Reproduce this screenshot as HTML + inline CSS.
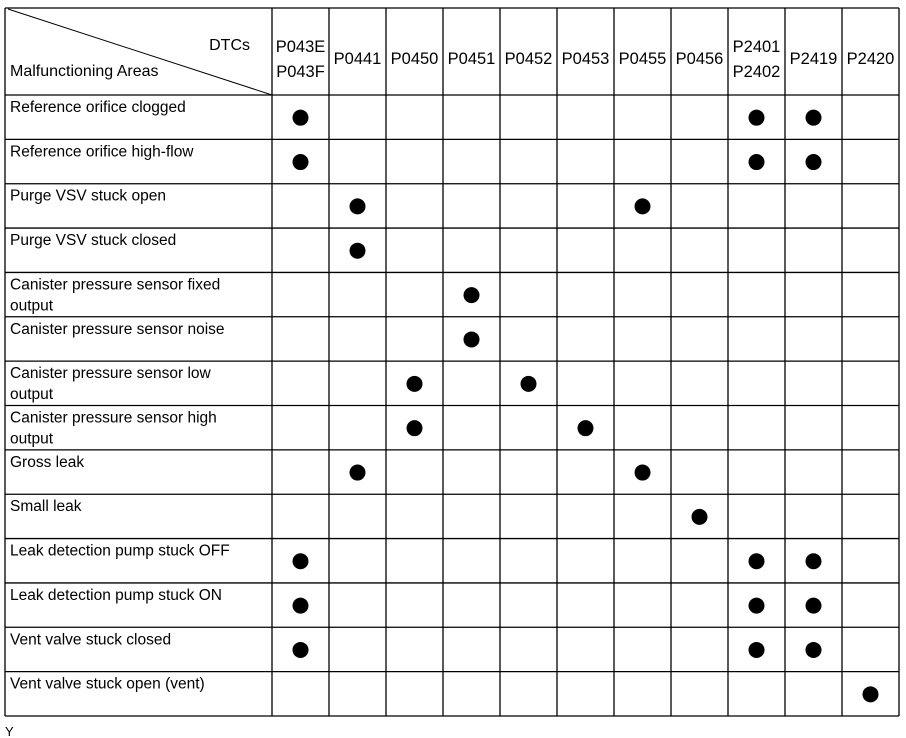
<!DOCTYPE html>
<html><head><meta charset="utf-8"><style>body{margin:0;background:#fff}svg{display:block}text{font-family:"Liberation Sans",Arial,sans-serif;font-size:15.5px;fill:#000}</style></head><body>
<svg id="s" width="906" height="738" xmlns="http://www.w3.org/2000/svg">
<rect x="0" y="0" width="906" height="738" fill="#fff"/>
<g id="g" stroke="#000" stroke-width="1.3"></g>
<line x1="8" y1="9" x2="272" y2="95" stroke="#000" stroke-width="1"/>
<text x="250" y="50" text-anchor="end" style="font-size:16px">DTCs</text>
<text x="10" y="76" style="font-size:16px">Malfunctioning Areas</text>
<text x="5" y="736" style="font-size:13px">Y</text>
</svg>
<script>
(function(){
var s=document.getElementById('s'),g=document.getElementById('g'),NS='http://www.w3.org/2000/svg';
function el(t,a,p,txt){var e=document.createElementNS(NS,t);for(var k in a)e.setAttribute(k,a[k]);if(txt)e.textContent=txt;(p||s).appendChild(e);return e;}
var cols=[5,272,329,386,443,500,557,614,671,728,785,842,899];
var ty=8,hb=95,bot=716,rh=(bot-hb)/14;
cols.forEach(function(x){el('line',{x1:x,y1:ty,x2:x,y2:bot},g);});
el('line',{x1:5,y1:ty,x2:899,y2:ty},g);
for(var i=0;i<=14;i++){var y=hb+i*rh;el('line',{x1:5,y1:y,x2:899,y2:y},g);}
var hd=[["P043E","P043F"],["P0441"],["P0450"],["P0451"],["P0452"],["P0453"],["P0455"],["P0456"],["P2401","P2402"],["P2419"],["P2420"]];
hd.forEach(function(h,i){var cx=(cols[i+1]+cols[i+2])/2;var st='font-size:16.5px';if(h.length==1)el('text',{x:cx,y:64,'text-anchor':'middle',style:st},s,h[0]);else{el('text',{x:cx,y:52,'text-anchor':'middle',style:st},s,h[0]);el('text',{x:cx,y:77,'text-anchor':'middle',style:st},s,h[1]);}});
var rows=[["Reference orifice clogged"],["Reference orifice high-flow"],["Purge VSV stuck open"],["Purge VSV stuck closed"],["Canister pressure sensor fixed","output"],["Canister pressure sensor noise"],["Canister pressure sensor low","output"],["Canister pressure sensor high","output"],["Gross leak"],["Small leak"],["Leak detection pump stuck OFF"],["Leak detection pump stuck ON"],["Vent valve stuck closed"],["Vent valve stuck open (vent)"]];
var dots=[[0,8,9],[0,8,9],[1,6],[1],[3],[3],[2,4],[2,5],[1,6],[7],[0,8,9],[0,8,9],[0,8,9],[10]];
rows.forEach(function(r,i){var y=hb+i*rh;r.forEach(function(t,j){el('text',{x:10,y:y+17+j*21},s,t);});
dots[i].forEach(function(c){el('circle',{cx:(cols[c+1]+cols[c+2])/2,cy:y+rh/2+0.5,r:8,fill:'#000'});});});
})();
</script>
</body></html>
